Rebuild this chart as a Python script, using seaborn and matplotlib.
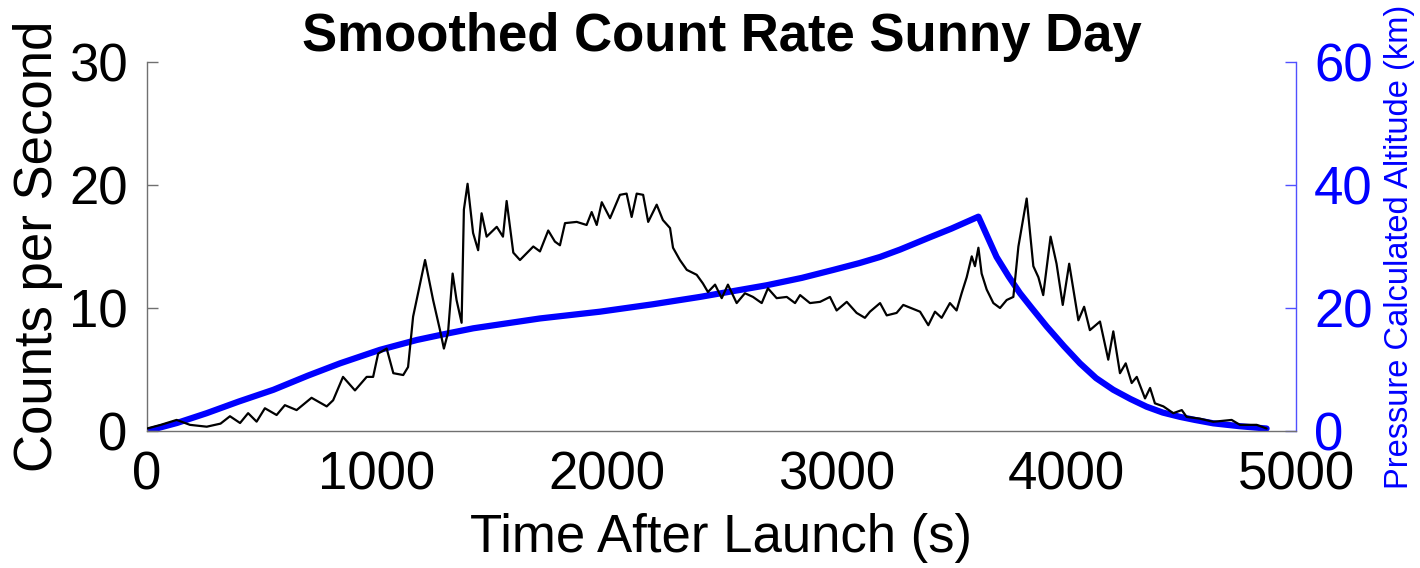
import matplotlib
matplotlib.use("Agg")
import matplotlib.pyplot as plt
import seaborn as sns
import numpy as np
import pandas as pd

# ---- data ----
count_time = [0, 60, 129, 187, 260, 320, 361, 405, 440, 477, 513, 564, 600, 651, 716, 782, 810,
              853, 905, 956, 984, 1006, 1043, 1072, 1115, 1136, 1158, 1210, 1245, 1275, 1292, 1310,
              1330, 1347, 1369, 1379, 1395, 1419, 1441, 1456, 1478, 1522, 1549, 1565, 1594, 1623,
              1681, 1710, 1746, 1775, 1797, 1819, 1870, 1913, 1935, 1957, 1979, 2015, 2058, 2087,
              2109, 2131, 2159, 2181, 2218, 2245, 2276, 2289, 2319, 2349, 2392, 2419, 2441, 2472,
              2501, 2528, 2566, 2602, 2637, 2675, 2702, 2740, 2784, 2820, 2842, 2885, 2929, 2972,
              3001, 3045, 3088, 3124, 3146, 3190, 3219, 3262, 3291, 3364, 3400, 3429, 3458, 3494,
              3523, 3545, 3567, 3589, 3603, 3618, 3632, 3654, 3683, 3712, 3741, 3770, 3792, 3828,
              3857, 3879, 3900, 3932, 3958, 3985, 4013, 4053, 4078, 4103, 4147, 4183, 4205, 4234,
              4259, 4285, 4307, 4343, 4365, 4386, 4423, 4466, 4503, 4524, 4582, 4640, 4720, 4756,
              4829, 4872]
count_rate = [0.2, 0.5, 0.9, 0.5, 0.35, 0.6, 1.2, 0.65, 1.45, 0.76, 1.85, 1.3, 2.1, 1.7, 2.7, 2.0, 2.5,
              4.4, 3.3, 4.4, 4.4, 6.3, 6.7, 4.7, 4.55, 5.2, 9.3, 13.9, 10.65, 8.2, 6.7, 8.0,
              12.8, 10.65, 8.8, 18.0, 20.1, 16.1, 14.7, 17.7, 15.8, 16.6, 15.8, 18.7, 14.5, 13.9,
              15.0, 14.6, 16.3, 15.4, 15.1, 16.9, 17.0, 16.75, 17.8, 16.75, 18.6, 17.3, 19.2, 19.3,
              17.4, 19.3, 19.2, 17.0, 18.4, 17.15, 16.5, 14.9, 13.9, 13.1, 12.7, 12.0, 11.3, 11.9,
              10.8, 11.9, 10.4, 11.2, 10.9, 10.4, 11.6, 10.8, 10.9, 10.4, 11.05, 10.4, 10.5, 10.9,
              9.8, 10.5, 9.6, 9.2, 9.7, 10.4, 9.4, 9.6, 10.25, 9.7, 8.6, 9.7, 9.2, 10.4,
              9.8, 11.2, 12.5, 14.2, 13.4, 14.9, 12.8, 11.5, 10.4, 10.0, 10.65, 10.9, 15.0, 18.9,
              13.4, 12.5, 11.05, 15.8, 13.6, 10.25, 13.6, 9.0, 10.1, 8.2, 8.9, 5.8, 8.1, 4.7,
              5.5, 3.9, 4.4, 2.65, 3.5, 2.25, 2.0, 1.45, 1.7, 1.15, 1.0, 0.75, 0.9, 0.5,
              0.5, 0.2]

alt_time = [0, 130, 260, 400, 550, 700, 840, 1014, 1174, 1300, 1420, 1710, 1971, 2200, 2406, 2697,
            2850, 2987, 3100, 3190, 3277, 3407, 3500, 3618, 3650, 3697, 3750, 3799, 3850, 3915,
            3990, 4060, 4130, 4205, 4280, 4350, 4420, 4495, 4560, 4640, 4750, 4872]
altitude_km = [0.0, 1.3, 2.9, 4.8, 6.7, 9.0, 11.0, 13.2, 14.8, 15.8, 16.7, 18.3, 19.4, 20.6, 21.8, 23.7,
               24.9, 26.2, 27.3, 28.3, 29.5, 31.5, 32.9, 34.85, 32.2, 28.3, 25.1, 22.4, 20.0, 17.0,
               13.8, 11.0, 8.6, 6.7, 5.2, 3.95, 3.0, 2.3, 1.8, 1.25, 0.8, 0.4]

x_ticks = [0, 1000, 2000, 3000, 4000, 5000]
left_ticks = [0, 10, 20, 30]
right_ticks = [0, 20, 40, 60]

title_text = "Smoothed Count Rate Sunny Day"
x_label = "Time After Launch (s)"
left_label = "Counts per Second"
right_label = "Pressure Calculated Altitude (km)"

# ---- styling ----
sns.set_theme(style="white")
plt.rcParams['font.family'] = ['Liberation Sans', 'DejaVu Sans']

BLUE = "#0000ff"
AXC = "#707070"

fig = plt.figure(figsize=(14.2, 5.68), dpi=100)
ax = fig.add_axes([147 / 1420, 1 - 431 / 568, (1296 - 147) / 1420, (431 - 62) / 568])
ax2 = ax.twinx()

df_c = pd.DataFrame({"t": count_time, "c": count_rate})
df_a = pd.DataFrame({"t": alt_time, "a": altitude_km})

sns.lineplot(data=df_c, x="t", y="c", ax=ax, color="black", linewidth=1.6, sort=False, zorder=3)
sns.lineplot(data=df_a, x="t", y="a", ax=ax2, color=BLUE, linewidth=4.5, sort=False, zorder=4)

ax.set_xlim(0, 5000)
ax.set_ylim(0, 30)
ax2.set_ylim(0, 60)
ax.set_xticks(x_ticks)
ax.set_yticks(left_ticks)
ax2.set_yticks(right_ticks)

ax.tick_params(axis="both", direction="in", length=8, width=1, color=AXC,
               labelsize=38, labelcolor="black")
ax.tick_params(axis="x", pad=14)
ax.tick_params(axis="y", pad=14)
ax2.tick_params(axis="y", direction="in", length=8, width=1, color="#5050ff",
                labelsize=38, labelcolor=BLUE, pad=13)

for a in (ax, ax2):
    a.spines["top"].set_visible(False)
    a.grid(False)
ax.spines["left"].set_color(AXC)
ax.spines["bottom"].set_color(AXC)
ax.spines["right"].set_visible(False)
ax2.spines["left"].set_visible(False)
ax2.spines["bottom"].set_visible(False)
ax2.spines["right"].set_color("#5050ff")
for s in ("left", "bottom"):
    ax.spines[s].set_linewidth(1)
ax2.spines["right"].set_linewidth(1)

ax.set_xlabel(x_label, fontsize=38, color="black", labelpad=9)
ax.set_ylabel(left_label, fontsize=38, color="black", labelpad=4)
ax2.set_ylabel(right_label, fontsize=23.5, color=BLUE, labelpad=8)
ax.set_title(title_text, fontsize=38, fontweight="bold", color="black", pad=4)

ax.set_zorder(ax2.get_zorder() + 1)
ax.patch.set_visible(False)

fig.savefig("out.png", dpi=100)
